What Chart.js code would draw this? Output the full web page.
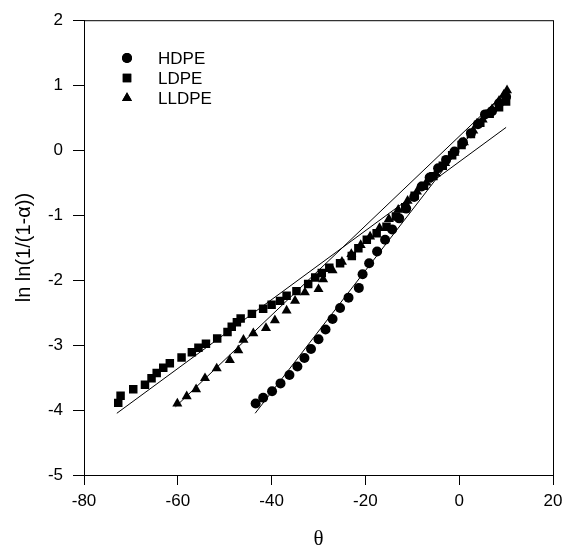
<!DOCTYPE html>
<html>
<head>
<meta charset="utf-8">
<script src="https://cdn.jsdelivr.net/npm/chart.js@4.4.1/dist/chart.umd.min.js"></script>
<style>
  html, body { margin: 0; padding: 0; background: #fff; }
  #wrap { width: 570px; height: 551px; }
</style>
</head>
<body>
<div id="wrap"><canvas id="grafico"></canvas></div>
<script>
// datos
const hdpeX = [-43.4, -41.8, -39.9, -38.1, -36.2, -34.5, -33.0, -31.6, -30.0, -28.5, -27.0, -25.4, -23.6, -21.4, -20.6, -19.2, -17.5, -15.8, -14.3, -12.8, -11.3, -9.6, -8.0, -6.3, -4.5, -2.8, -1.0, 0.8, 2.5, 4.0, 5.5, 7.0, 8.5, 10.0];
const hdpeY = [-3.90, -3.81, -3.71, -3.59, -3.46, -3.33, -3.20, -3.06, -2.91, -2.76, -2.60, -2.43, -2.27, -2.12, -1.91, -1.74, -1.56, -1.38, -1.22, -1.05, -0.90, -0.72, -0.56, -0.42, -0.28, -0.15, -0.02, 0.12, 0.26, 0.40, 0.55, 0.60, 0.72, 0.82];

const ldpeX = [-72.7, -72.2, -69.5, -67.0, -65.6, -64.5, -63.1, -61.7, -59.2, -57.0, -55.6, -54.0, -51.6, -49.4, -48.5, -47.4, -46.6, -44.2, -41.8, -40.0, -38.2, -36.8, -34.7, -32.2, -30.7, -29.3, -27.7, -25.4, -22.9, -21.5, -19.7, -17.6, -15.5, -13.5, -11.5, -9.5, -7.5, -5.5, -3.5, -1.5, 0.5, 2.5, 4.5, 6.5, 8.5, 10.0];
const ldpeY = [-3.89, -3.78, -3.68, -3.61, -3.51, -3.43, -3.35, -3.28, -3.19, -3.11, -3.04, -2.98, -2.90, -2.80, -2.72, -2.65, -2.59, -2.52, -2.44, -2.38, -2.32, -2.24, -2.17, -2.06, -1.96, -1.89, -1.81, -1.74, -1.63, -1.51, -1.38, -1.28, -1.18, -1.02, -0.88, -0.70, -0.55, -0.40, -0.24, -0.08, 0.08, 0.25, 0.42, 0.56, 0.66, 0.75];

const lldpeX = [-60.1, -58.1, -56.1, -54.2, -51.7, -48.9, -47.1, -46.0, -43.9, -41.2, -39.3, -36.8, -35.0, -32.9, -30.0, -29.0, -27.0, -25.0, -23.0, -21.0, -19.0, -17.0, -15.0, -13.0, -11.0, -9.0, -7.0, -5.0, -3.0, -1.0, 1.0, 3.0, 5.0, 7.0, 8.5, 9.5, 10.2];
const lldpeY = [-3.90, -3.79, -3.68, -3.51, -3.36, -3.23, -3.08, -2.92, -2.82, -2.74, -2.62, -2.47, -2.32, -2.19, -2.14, -1.99, -1.85, -1.72, -1.60, -1.46, -1.33, -1.20, -1.06, -0.92, -0.78, -0.64, -0.50, -0.36, -0.20, -0.04, 0.12, 0.30, 0.47, 0.63, 0.76, 0.85, 0.92];

// rectas de ajuste (extremos)
const ajusteHdpeX = [-43.5, 10];
const ajusteHdpeY = [-4.05, 0.95];
const ajusteLdpeX = [-73, 10];
const ajusteLdpeY = [-4.05, 0.35];
const ajusteLldpeX = [-60.5, 10];
const ajusteLldpeY = [-3.95, 0.9];

const ticksX = [-80, -60, -40, -20, 0, 20];
const ticksY = [-5, -4, -3, -2, -1, 0, 1, 2];

const pares = (xs, ys) => xs.map((x, i) => ({ x: x, y: ys[i] }));

const serie = (label, xs, ys, estilo, radio) => ({
    type: 'scatter',
    label: label,
    data: pares(xs, ys),
    pointStyle: estilo,
    pointRadius: radio,
    pointHoverRadius: radio,
    backgroundColor: '#000',
    borderColor: '#000',
    borderWidth: 0,
    order: 0
});

const recta = (xs, ys) => ({
    type: 'line',
    label: '',
    data: pares(xs, ys),
    borderColor: '#000',
    borderWidth: 1,
    pointRadius: 0,
    fill: false,
    order: 1
});

// marco, leyenda y titulos de ejes
const extras = {
    id: 'extras',
    afterDraw(chart) {
        const ctx = chart.ctx;
        const a = chart.chartArea;
        ctx.save();
        ctx.strokeStyle = '#000';
        ctx.lineWidth = 1;
        ctx.strokeRect(a.left + 0.5, a.top + 0.5, a.right - a.left, a.bottom - a.top);

        ctx.fillStyle = '#000';
        ctx.font = '17px "Liberation Sans", Arial, sans-serif';
        ctx.textBaseline = 'middle';
        ctx.textAlign = 'left';
        const items = chart.data.datasets.filter(d => d.type === 'scatter');
        items.forEach((d, i) => {
            const y = 58 + i * 20;
            Chart.helpers.drawPoint(ctx, { pointStyle: d.pointStyle, radius: d.pointRadius, rotation: 0, borderWidth: 0 }, 127, y);
            ctx.fillStyle = '#000';
            ctx.fill();
            ctx.fillText(d.label, 158, y + 1);
        });

        ctx.font = '20px "Liberation Sans", Arial, sans-serif';
        ctx.textAlign = 'center';
        ctx.translate(24, (a.top + a.bottom) / 2);
        ctx.rotate(-Math.PI / 2);
        ctx.fillText('ln ln(1/(1-\u03b1))', 0, 0);
        ctx.restore();

        ctx.save();
        ctx.fillStyle = '#000';
        ctx.font = '21px "Liberation Serif", "Times New Roman", serif';
        ctx.textAlign = 'center';
        ctx.textBaseline = 'middle';
        ctx.fillText('\u03b8', (a.left + a.right) / 2, 539);
        ctx.restore();
    }
};

const fuenteTicks = { family: '"Liberation Sans", Arial, sans-serif', size: 17 };

new Chart(document.getElementById('grafico'), {
    data: {
        datasets: [
            serie('HDPE', hdpeX, hdpeY, 'circle', 5),
            serie('LDPE', ldpeX, ldpeY, 'rect', 6),
            serie('LLDPE', lldpeX, lldpeY, 'triangle', 5.8),
            recta(ajusteHdpeX, ajusteHdpeY),
            recta(ajusteLdpeX, ajusteLdpeY),
            recta(ajusteLldpeX, ajusteLldpeY)
        ]
    },
    options: {
        responsive: true,
        maintainAspectRatio: false,
        animation: false,
        layout: { padding: { left: 0, right: 17, top: 14, bottom: 0 } },
        plugins: { legend: { display: false }, tooltip: { enabled: false } },
        scales: {
            x: {
                type: 'linear',
                min: -80, max: 20,
                afterBuildTicks: s => { s.ticks = ticksX.map(v => ({ value: v })); },
                afterFit: s => { s.height = 76; },
                grid: { display: true, drawOnChartArea: false, drawTicks: true, tickLength: 10, color: '#000' },
                border: { display: true, color: '#000', width: 1 },
                ticks: { color: '#000', font: fuenteTicks, padding: 6, maxRotation: 0 }
            },
            y: {
                type: 'linear',
                min: -5, max: 2,
                afterBuildTicks: s => { s.ticks = ticksY.map(v => ({ value: v })); },
                afterFit: s => { s.width = 84; },
                grid: { display: true, drawOnChartArea: false, drawTicks: true, tickLength: 11, color: '#000' },
                border: { display: true, color: '#000', width: 1 },
                ticks: { color: '#000', font: fuenteTicks, padding: 10 }
            }
        }
    },
    plugins: [extras]
});
</script>
</body>
</html>
